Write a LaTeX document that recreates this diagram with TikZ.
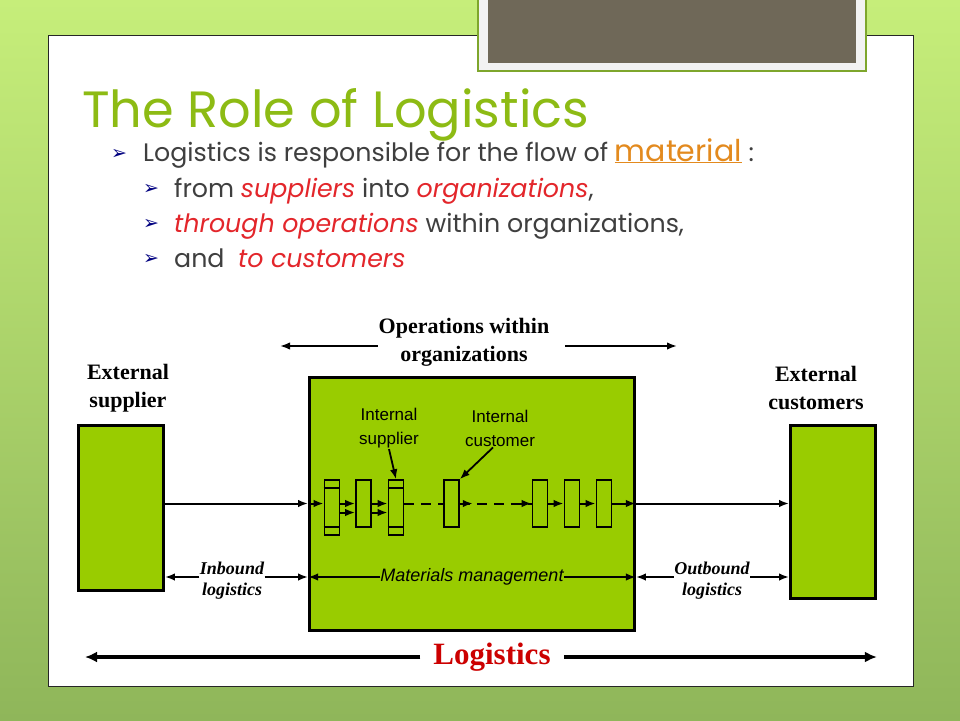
\documentclass[tikz,border=0pt]{standalone}
\usepackage{fontspec}
\setmainfont{Poppins}
\newfontfamily\timesfont{Liberation Serif}
\newfontfamily\arialfont{Liberation Sans}
\newfontfamily\symfont{DejaVu Sans}
\usetikzlibrary{arrows.meta,positioning}

\definecolor{titelgruen}{HTML}{8DBB14}
\definecolor{kastengruen}{HTML}{99CC00}
\definecolor{grautext}{HTML}{3F3F3F}
\definecolor{rottext}{HTML}{E3262B}
\definecolor{orangetext}{HTML}{E38A1E}
\definecolor{pfeilblau}{HTML}{000080}
\definecolor{rahmen}{HTML}{7EA62C}
\definecolor{dunkel}{HTML}{6F6858}
\definecolor{logirot}{HTML}{CC0000}

\begin{document}
\begin{tikzpicture}[x=1pt,y=-1pt,>={Latex[length=10pt,width=7.5pt]},
	kasten/.style={draw,line width=2.8pt,fill=kastengruen,inner sep=0pt},
	klein/.style={draw,line width=1.6pt,fill=kastengruen,minimum width=15pt,inner sep=0pt},
	fett/.style={font=\timesfont\bfseries\fontsize{22}{28}\selectfont,align=center,inner sep=1pt},
	intern/.style={font=\arialfont\fontsize{17}{24}\selectfont,align=center,inner sep=1pt},
	logi/.style={font=\timesfont\bfseries\itshape\fontsize{18}{21}\selectfont,align=center,fill=white,inner sep=0.5pt},
	mmtext/.style={font=\arialfont\itshape\fontsize{18}{20}\selectfont,fill=kastengruen,inner sep=0pt},
	logtext/.style={font=\timesfont\bfseries\fontsize{31}{34}\selectfont,text=logirot,inner xsep=13pt},
	zeile/.style={font=\fontsize{25.3}{28}\selectfont,text=grautext,inner sep=0pt,anchor=base west},
	pfeil/.style={font=\symfont\fontsize{19}{19}\selectfont,text=pfeilblau,inner sep=0pt},
	fluss/.style={->,line width=2pt},
	strich/.style={line width=2pt,dash pattern=on 10pt off 7pt},
	node distance=32pt]

\useasboundingbox (0,0) rectangle (960,720);

%Hintergrund
\shade[top color={rgb,255:red,198;green,238;blue,122},bottom color={rgb,255:red,143;green,182;blue,90}] (0,0) rectangle (960,720);
\filldraw[fill=white,draw=black!85,line width=0.8pt] (48,35) rectangle (913,686);
\filldraw[fill=black!5,draw=rahmen,line width=2pt] (478,-2) rectangle (866,71);
\fill[dunkel] (488,-2) rectangle (856,63);

%Titel und Punkte
\node[zeile,font=\fontsize{51}{56}\selectfont,text=titelgruen] (titel) at (82,127) {The Role of Logistics};

\node[pfeil]	(pf1)	at (119,154)	{➢};
\node[pfeil]	(pf2)	at (151,189)	{➢};
\node[pfeil]	(pf3)	at (151,224)	{➢};
\node[pfeil]	(pf4)	at (151,259)	{➢};

\node[zeile]	(t1)	at (143,161)	{Logistics is responsible for the flow of {\color{orangetext}\fontsize{30}{30}\selectfont\underline{material}}\ :};
\node[zeile]	(t2)	at (174,197)	{from {\color{rottext}\itshape suppliers} into {\color{rottext}\itshape organizations},};
\node[zeile]	(t3)	at (174,232)	{{\color{rottext}\itshape through operations} within organizations,};
\node[zeile]	(t4)	at (174,267)	{and\ \ {\color{rottext}\itshape to customers}};

%Kästen
\node[kasten,minimum width=85pt,minimum height=165pt]	(sup)	at (121,508)	{};
\node[kasten,minimum width=325pt,minimum height=253pt]	(ops)	at (472,504)	{};
\node[kasten,minimum width=85pt,minimum height=173pt]	(cus)	at (833,512)	{};

\node[fett]	(supl)	at (128,388)	{External\\supplier};
\node[fett]	(cusl)	at (816,388)	{External\\customers};
\node[fett]	(opsl)	at (464,342)	{Operations within\\organizations};

\coordinate (opsL) at (280,346);
\coordinate (opsR) at (677,346);
\draw[->,line width=1.8pt] (opsl.west |- opsL) -- (opsL);
\draw[->,line width=1.8pt,shorten <=15pt] (opsl.east |- opsR) -- (opsR);

%kleine Kästen
\node[klein,minimum height=55pt]	(k1)				at (332,507.5)	{};
\node[klein,minimum height=47pt]	(k2)				at (363.5,503.5)	{};
\node[klein,minimum height=55pt]	(k3)				at (396,507.5)	{};
\node[klein,minimum height=47pt]	(k4)				at (451.5,503.5)	{};
\node[klein,minimum height=47pt]	(k5)				at (540,503.5)	{};
\node[klein,minimum height=47pt]	(k6)	[right of=k5]	{};
\node[klein,minimum height=47pt]	(k7)	[right of=k6]	{};

\foreach \k in {k1,k3} {
	\draw[line width=1.6pt] ([yshift=-9pt]\k.north west) -- ([yshift=-9pt]\k.north east)
		([yshift=9pt]\k.south west) -- ([yshift=9pt]\k.south east);
}

%Materialfluss
\draw[fluss] (sup.east |- k2)	-- (ops.west |- k2);
\draw[fluss] (ops.west |- k2)	-- (k1.west |- k2);
\draw[fluss] (k1.east |- k2)	-- (k2.west);
\draw[fluss] ([yshift=-9pt]k1.east |- k2) -- ([yshift=-9pt]k2.west);
\draw[fluss] (k2.east)	-- (k3.west |- k2);
\draw[fluss] ([yshift=-9pt]k2.east) -- ([yshift=-9pt]k3.west |- k2);
\draw[strich] (k3.east |- k2)	-- (k4.west);
\draw[strich] (k4.east)	-- (k5.west);
\draw[fluss] (k4.east)	-- ([xshift=13pt]k4.east);
\draw[fluss] ([xshift=-1pt]k5.west) ++(-12pt,0) -- (k5.west);
\draw[fluss] (k5.east)	-- (k6.west);
\draw[fluss] (k6.east)	-- (k7.west);
\draw[fluss] (k7.east)	-- (ops.east |- k2);
\draw[fluss] (ops.east |- k2)	-- (cus.west |- k2);

%intern
\node[intern]	(isup)	at (389,428)	{Internal\\supplier};
\node[intern]	(icus)	at (500,428)	{Internal\\customer};
\draw[->,line width=1.8pt] (isup.south) -- (k3.north);
\draw[->,line width=1.8pt] ([xshift=-7pt]icus.south) -- (k4.north east);

%unten
\node[mmtext]	(mm)	at (472,577)	{Materials management};
\node[logi]	(inb)	at (232,581)	{Inbound\\logistics};
\node[logi]	(outb)	at (712,581)	{Outbound\\logistics};

\draw[fluss] (mm.west)	-- (ops.west |- mm);
\draw[fluss] (mm.east)	-- (ops.east |- mm);
\draw[fluss] (inb.west |- mm)	-- (sup.east |- mm);
\draw[fluss] (inb.east |- mm)	-- (ops.west |- mm);
\draw[fluss] (outb.west |- mm)	-- (ops.east |- mm);
\draw[fluss] (outb.east |- mm)	-- (cus.west |- mm);

\node[logtext]	(logi)	at (492,657)	{Logistics};
\coordinate (links) at (85,657);
\draw[->,line width=3.8pt,>={Latex[length=12pt,width=11pt]}] (logi.west) -- (links);
\draw[->,line width=3.8pt,>={Latex[length=12pt,width=11pt]}] (logi.east) -- (cus.east |- logi);

\end{tikzpicture}
\end{document}
